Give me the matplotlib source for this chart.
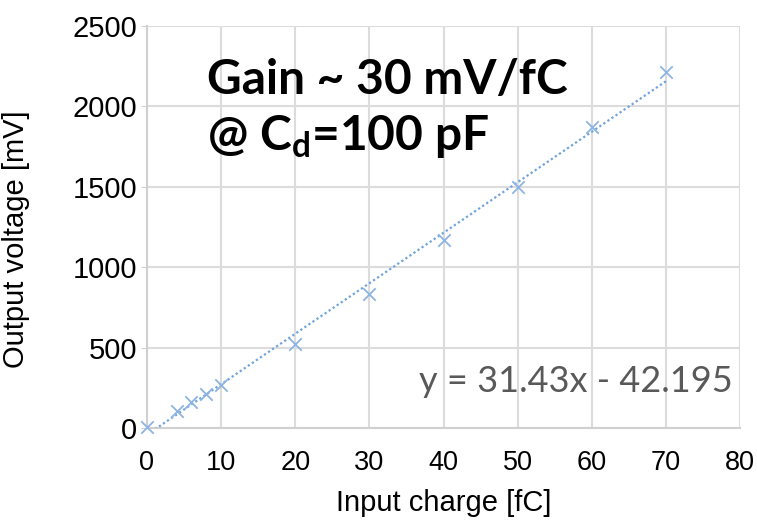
import numpy as np
import matplotlib
matplotlib.use('Agg')
import matplotlib.pyplot as plt

# measured points: input charge [fC] vs output voltage [mV]
charge = [0, 4, 6, 8, 10, 20, 30, 40, 50, 60, 70]
voltage = [5, 106, 162, 212, 268, 523, 834, 1170, 1500, 1874, 2217]

# linear trendline shown on the chart
slope = 31.43
intercept = -42.195

x_ticks = [0, 10, 20, 30, 40, 50, 60, 70, 80]
y_ticks = [0, 500, 1000, 1500, 2000, 2500]

plt.rcParams['font.family'] = ['Liberation Sans', 'DejaVu Sans']

fig = plt.figure(figsize=(7.57, 5.22), dpi=100)
ax = fig.add_axes([0.194, 0.180, 0.784, 0.770])

# trendline over data range
xt = np.linspace(min(charge), max(charge), 200)
ax.plot(xt, slope * xt + intercept, linestyle=(0, (1, 1.2)), color='#6fa3dc',
        linewidth=1.6, zorder=3)
ax.scatter(charge, voltage, marker='x', s=80, color='#8db4e2', linewidths=1.3,
           zorder=4, clip_on=False)

ax.set_xlim(0, 80)
ax.set_ylim(0, 2500)
ax.set_xticks(x_ticks)
ax.set_yticks(y_ticks)
ax.grid(True, color='#dcdcdc', linewidth=1.5)
ax.set_axisbelow(True)
for s in ['top', 'right']:
    ax.spines[s].set_visible(False)
for s in ['left', 'bottom']:
    ax.spines[s].set_color('#d0d0d0')
    ax.spines[s].set_linewidth(1.5)
ax.tick_params(axis='x', length=0, pad=16, labelsize=19.5)
ax.tick_params(axis='y', length=4, color='#d0d0d0', pad=3, labelsize=21)

ax.set_xlabel('Input charge [fC]', fontsize=21, labelpad=9)
ax.set_ylabel('Output voltage [mV]', fontsize=21)
ax.yaxis.set_label_coords(-0.197, 0.47)

fig.text(0.2735, 0.820, 'Gain ~ 30 mV/fC', fontsize=34.5, fontweight='bold',
         family=['Lato', 'DejaVu Sans'], va='baseline')
fig.text(0.2735, 0.713, '@ C$_\\mathregular{d}$=100 pF', fontsize=34.5, fontweight='bold',
         family=['Lato', 'DejaVu Sans'], va='baseline')
fig.text(0.968, 0.249, 'y = 31.43x - 42.195', fontsize=26, color='#595959',
         family=['Lato', 'DejaVu Sans'], ha='right', va='baseline')

fig.savefig('out.png', dpi=100)
